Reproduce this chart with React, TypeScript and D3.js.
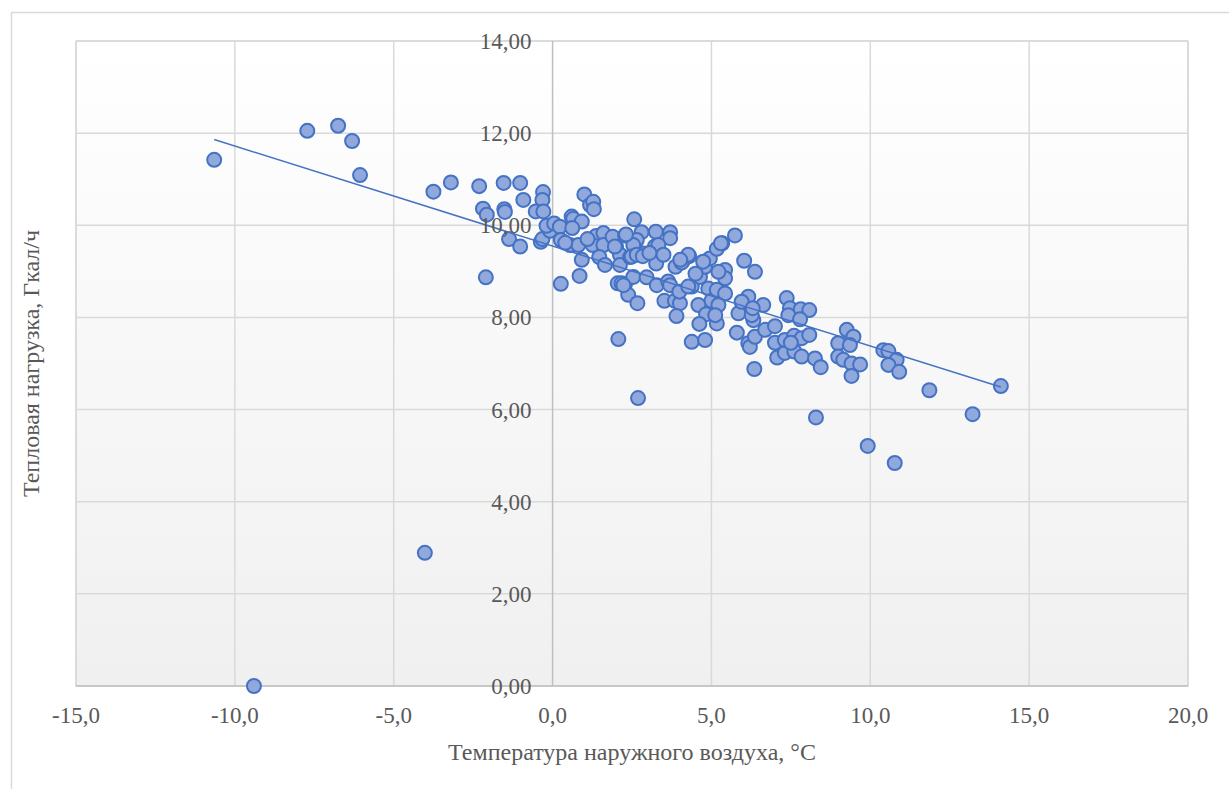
import { useEffect, useRef } from 'react';
import * as d3 from 'd3';

// outdoor temperature, °C
const tempX: number[] = [
  -10.65, -9.4, -7.72, -6.75, -6.31, -6.06, -4.02, -3.75, -3.2, -2.31, -2.19, -2.07, -2.1, -1.54, -1.52, -1.5,
  -1.02, -0.92, -1.37, -1.02, -0.3, -0.32, -0.53, -0.29, -0.37, -0.32, -0.08, -0.19,
  0.05, 0.23, 0.26, 0.26, 0.6, 0.65, 0.92, 0.62, 0.55, 0.81, 0.92, 0.85, 1.0, 1.18, 1.28, 1.3, 1.37, 1.6, 1.26, 1.6, 1.47, 1.65,
  2.07, 2.57, 2.0, 1.89, 2.28, 2.12, 2.12, 2.44, 2.05, 2.17, 2.28, 2.38, 2.67, 2.69, 2.8, 3.25, 3.7, 3.7, 2.65, 2.54, 2.85, 2.49,
  3.22, 3.33, 2.65, 2.84, 3.26, 3.49, 2.54, 2.96, 3.28, 3.64, 3.7,
  3.52, 3.85, 4.01, 3.87, 4.1, 4.3, 3.99, 3.9, 4.38, 4.64, 4.8, 4.95, 4.74, 4.06, 5.17, 5.34, 5.74, 4.9, 5.0, 4.59, 4.83, 4.62,
  5.17, 4.38, 4.8, 5.43, 5.43, 5.22, 5.17, 5.43, 5.22, 5.12, 4.27,
  5.8, 6.03, 6.37, 5.85, 6.16, 5.95, 6.32, 6.27, 6.16, 6.21, 6.37, 6.35, 6.63, 6.69, 7.0, 7.0, 7.07, 7.31, 7.31, 7.6, 7.84, 8.08,
  7.61, 7.84, 8.26, 8.44, 7.37, 7.47, 7.81, 8.08, 7.42, 7.79, 8.29,
  9.26, 9.47, 8.99, 9.36, 8.99, 9.15, 9.41, 9.68, 9.41, 10.41, 10.57, 10.83, 10.57, 10.91, 9.92, 10.77, 11.86, 13.22, 14.11,
  1.96, 2.31, 4.27, 5.3, 2.23, 4.02, 0.4, 1.1, 3.05, 4.5, 6.3, 7.5,
];

// heat load, Gcal/h
const loadY: number[] = [
  11.42, 0.0, 12.05, 12.16, 11.83, 11.09, 2.89, 10.73, 10.93, 10.85, 10.36, 10.23, 8.87, 10.92, 10.35, 10.29,
  10.92, 10.55, 9.7, 9.54, 10.72, 10.55, 10.3, 10.3, 9.64, 9.7, 9.88, 9.99,
  10.04, 9.97, 9.68, 8.73, 10.19, 10.14, 10.08, 9.94, 9.57, 9.57, 9.25, 8.9, 10.67, 10.44, 10.51, 10.35, 9.77, 9.83, 9.57, 9.57, 9.31, 9.14,
  7.53, 10.13, 9.54, 9.75, 9.78, 9.36, 9.14, 9.31, 8.74, 8.74, 8.72, 8.49, 8.31, 6.25, 9.85, 9.86, 9.85, 9.72, 9.68, 9.57, 9.39, 9.32,
  9.54, 9.57, 9.36, 9.33, 9.17, 9.36, 8.88, 8.87, 8.7, 8.78, 8.7,
  8.36, 8.36, 8.31, 9.1, 9.23, 9.33, 8.56, 8.03, 8.67, 8.88, 9.1, 9.28, 9.21, 9.19, 9.49, 9.61, 9.78, 8.63, 8.36, 8.27, 8.07, 7.86,
  7.87, 7.47, 7.51, 9.03, 8.85, 8.99, 8.6, 8.52, 8.27, 8.05, 8.67,
  7.67, 9.23, 8.99, 8.09, 8.45, 8.34, 7.94, 8.05, 7.44, 7.36, 7.58, 6.88, 8.27, 7.73, 7.81, 7.45, 7.13, 7.23, 7.51, 7.6, 7.55, 7.62,
  7.26, 7.15, 7.11, 6.92, 8.42, 8.2, 8.18, 8.16, 8.05, 7.96, 5.83,
  7.73, 7.58, 7.44, 7.4, 7.15, 7.08, 7.0, 6.98, 6.73, 7.29, 7.27, 7.08, 6.97, 6.82, 5.21, 4.84, 6.42, 5.9, 6.51,
  9.54, 9.8, 9.36, 9.61, 8.7, 9.25, 9.62, 9.7, 9.4, 8.95, 8.2, 7.45,
];

const xTicks = [-15, -10, -5, 0, 5, 10, 15, 20];
const yTicks = [0, 2, 4, 6, 8, 10, 12, 14];

// linear trend
const trendSlope = -0.217;
const trendIntercept = 9.55;

const xTitle = 'Температура наружного воздуха, °С';
const yTitle = 'Тепловая нагрузка, Гкал/ч';

const App = () => {
  const svgRef = useRef<SVGSVGElement>(null);

  useEffect(() => {
    const width = 1229;
    const height = 789;
    const margin = { top: 41, right: 41, bottom: 103, left: 76 };
    const font = '"Liberation Serif", "Times New Roman", serif';

    const svg = d3.select(svgRef.current);
    svg.selectAll('*').remove();
    svg.attr('width', width).attr('height', height);

    const x = d3.scaleLinear().domain([-15, 20]).range([margin.left, width - margin.right]);
    const y = d3.scaleLinear().domain([0, 14]).range([height - margin.bottom, margin.top]);

    const grad = svg.append('defs').append('linearGradient')
      .attr('id', 'plotBg').attr('x1', 0).attr('y1', 0).attr('x2', 0).attr('y2', 1);
    grad.append('stop').attr('offset', '0%').attr('stop-color', '#ffffff');
    grad.append('stop').attr('offset', '100%').attr('stop-color', '#f0f0f0');

    svg.append('rect')
      .attr('x', 0).attr('y', 0).attr('width', width).attr('height', height)
      .attr('fill', '#ffffff');

    svg.append('rect')
      .attr('x', 11.5).attr('y', 12.5).attr('width', width).attr('height', height)
      .attr('fill', 'none').attr('stroke', '#d9d9d9').attr('stroke-width', 1.5);

    svg.append('rect')
      .attr('x', x(-15)).attr('y', y(14))
      .attr('width', x(20) - x(-15)).attr('height', y(0) - y(14))
      .attr('fill', 'url(#plotBg)').attr('stroke', '#d9d9d9').attr('stroke-width', 1.5);

    const grid = svg.append('g');
    grid.selectAll('line.vx')
      .data(xTicks.filter(d => d !== 0))
      .enter().append('line')
      .attr('x1', d => x(d)).attr('x2', d => x(d))
      .attr('y1', y(14)).attr('y2', y(0))
      .attr('stroke', '#d9d9d9').attr('stroke-width', 1.5);
    grid.selectAll('line.hy')
      .data(yTicks.filter(d => d !== 0))
      .enter().append('line')
      .attr('x1', x(-15)).attr('x2', x(20))
      .attr('y1', d => y(d)).attr('y2', d => y(d))
      .attr('stroke', '#d9d9d9').attr('stroke-width', 1.5);

    // axis lines
    svg.append('line')
      .attr('x1', x(0)).attr('x2', x(0)).attr('y1', y(14)).attr('y2', y(0))
      .attr('stroke', '#bfbfbf').attr('stroke-width', 1.5);
    svg.append('line')
      .attr('x1', x(-15)).attr('x2', x(20)).attr('y1', y(0)).attr('y2', y(0))
      .attr('stroke', '#bfbfbf').attr('stroke-width', 1.5);

    const points = tempX.map((t, i) => ({ t, q: loadY[i] }));
    svg.append('g')
      .selectAll('circle')
      .data(points)
      .enter().append('circle')
      .attr('cx', d => x(d.t))
      .attr('cy', d => y(d.q))
      .attr('r', 7)
      .attr('fill', '#90a8db')
      .attr('stroke', '#4472c4')
      .attr('stroke-width', 2);

    const [tMin, tMax] = d3.extent(tempX) as [number, number];
    const trend = d3.line<number>()
      .x(d => x(d))
      .y(d => y(trendIntercept + trendSlope * d));
    svg.append('path')
      .attr('d', trend([tMin, tMax]))
      .attr('fill', 'none')
      .attr('stroke', '#4472c4')
      .attr('stroke-width', 1.5);

    svg.append('g')
      .selectAll('text')
      .data(xTicks)
      .enter().append('text')
      .attr('x', d => x(d))
      .attr('y', y(0) + 37)
      .attr('text-anchor', 'middle')
      .attr('font-family', font)
      .attr('font-size', 23)
      .attr('fill', '#595959')
      .text(d => d.toFixed(1).replace('.', ','));

    svg.append('g')
      .selectAll('text')
      .data(yTicks)
      .enter().append('text')
      .attr('x', x(0) - 21)
      .attr('y', d => y(d))
      .attr('dy', '0.35em')
      .attr('text-anchor', 'end')
      .attr('font-family', font)
      .attr('font-size', 23)
      .attr('fill', '#595959')
      .text(d => d.toFixed(2).replace('.', ','));

    svg.append('text')
      .attr('x', (x(-15) + x(20)) / 2)
      .attr('y', 760)
      .attr('text-anchor', 'middle')
      .attr('font-family', font)
      .attr('font-size', 24)
      .attr('fill', '#595959')
      .text(xTitle);

    svg.append('text')
      .attr('transform', `translate(39, ${(y(0) + y(14)) / 2}) rotate(-90)`)
      .attr('text-anchor', 'middle')
      .attr('font-family', font)
      .attr('font-size', 24)
      .attr('fill', '#595959')
      .text(yTitle);
  }, []);

  return (
    <div style={{ position: 'absolute', left: 0, top: 0 }}>
      <svg ref={svgRef} style={{ display: 'block' }}></svg>
    </div>
  );
};

export default App;
